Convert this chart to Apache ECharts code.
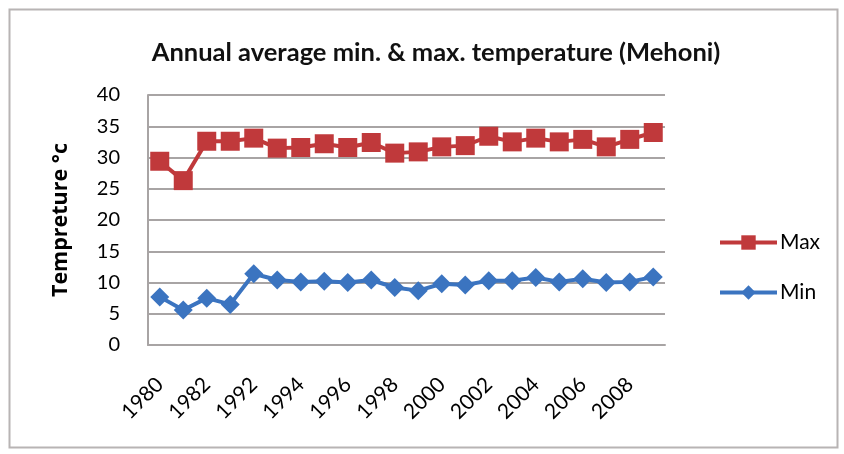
<!DOCTYPE html>
<html><head><meta charset="utf-8">
<script src="https://cdn.jsdelivr.net/npm/echarts@6/dist/echarts.min.js"></script>
<style>html,body{margin:0;padding:0;background:#fff}#c{width:844px;height:454px}</style>
</head><body><div id="c"></div>
<script>
var categories = ['1980','1981','1982','1983','1992','1993','1994','1995','1996','1997','1998','1999','2000','2001','2002','2003','2004','2005','2006','2007','2008','2009'];
var maxValues = [29.4,26.3,32.6,32.6,33.1,31.5,31.6,32.2,31.6,32.4,30.7,30.9,31.7,31.9,33.4,32.5,33.1,32.5,32.9,31.7,32.9,34.0];
var minValues = [7.7,5.6,7.5,6.5,11.4,10.4,10.1,10.2,10.0,10.4,9.2,8.7,9.8,9.6,10.3,10.3,10.8,10.1,10.6,10.0,10.1,10.9];
var yTicks = {min:0, max:40, interval:5};
var titleText = 'Annual average min. & max. temperature (Mehoni)';
var yName = 'Tempreture °c';

var font = 'Lato, "Open Sans", sans-serif';
var chart = echarts.init(document.getElementById('c'));
chart.setOption({
  backgroundColor:'#fff',
  animation:false,
  title:{text:titleText,left:431,top:35,textAlign:'center',
    textStyle:{fontFamily:font,fontSize:25.5,fontWeight:'bold',color:'#111'}},
  legend:{orient:'vertical',left:713,top:227,itemGap:29,itemWidth:57,itemHeight:18,
    lineStyle:{width:4},
    textStyle:{fontFamily:font,fontSize:21,color:'#000',padding:[0,0,0,-2]},
    data:['Max','Min']},
  grid:{left:148,top:95,width:517,height:250},
  xAxis:{type:'category',data:categories,boundaryGap:true,
    axisLine:{lineStyle:{color:'#a8a4a4',width:2}},
    axisTick:{show:false},
    axisLabel:{interval:1,rotate:45,fontFamily:font,fontSize:21,color:'#000',margin:36}},
  yAxis:{type:'value',min:yTicks.min,max:yTicks.max,interval:yTicks.interval,
    name:yName,nameLocation:'middle',nameGap:76,nameRotate:90,
    nameTextStyle:{fontFamily:'"Open Sans", sans-serif',fontSize:21.5,fontWeight:'bold',color:'#000'},
    axisLine:{show:true,lineStyle:{color:'#a8a4a4',width:2}},
    axisTick:{show:false},
    axisLabel:{fontFamily:font,fontSize:20,color:'#000',margin:28},
    splitLine:{lineStyle:{color:'#a8a4a4',width:2}}},
  series:[
    {name:'Max',type:'line',data:maxValues,symbol:'rect',symbolSize:19,showAllSymbol:true,
      lineStyle:{color:'#c0393b',width:4},itemStyle:{color:'#c0393b'}},
    {name:'Min',type:'line',data:minValues,symbol:'diamond',symbolSize:19,showAllSymbol:true,
      lineStyle:{color:'#3b74c0',width:4},itemStyle:{color:'#3b74c0'}}
  ],
  graphic:[{type:'rect',shape:{x:9.5,y:9.5,width:828,height:438},
    style:{fill:'none',stroke:'#b8b4b4',lineWidth:2},silent:true}]
});
</script></body></html>
